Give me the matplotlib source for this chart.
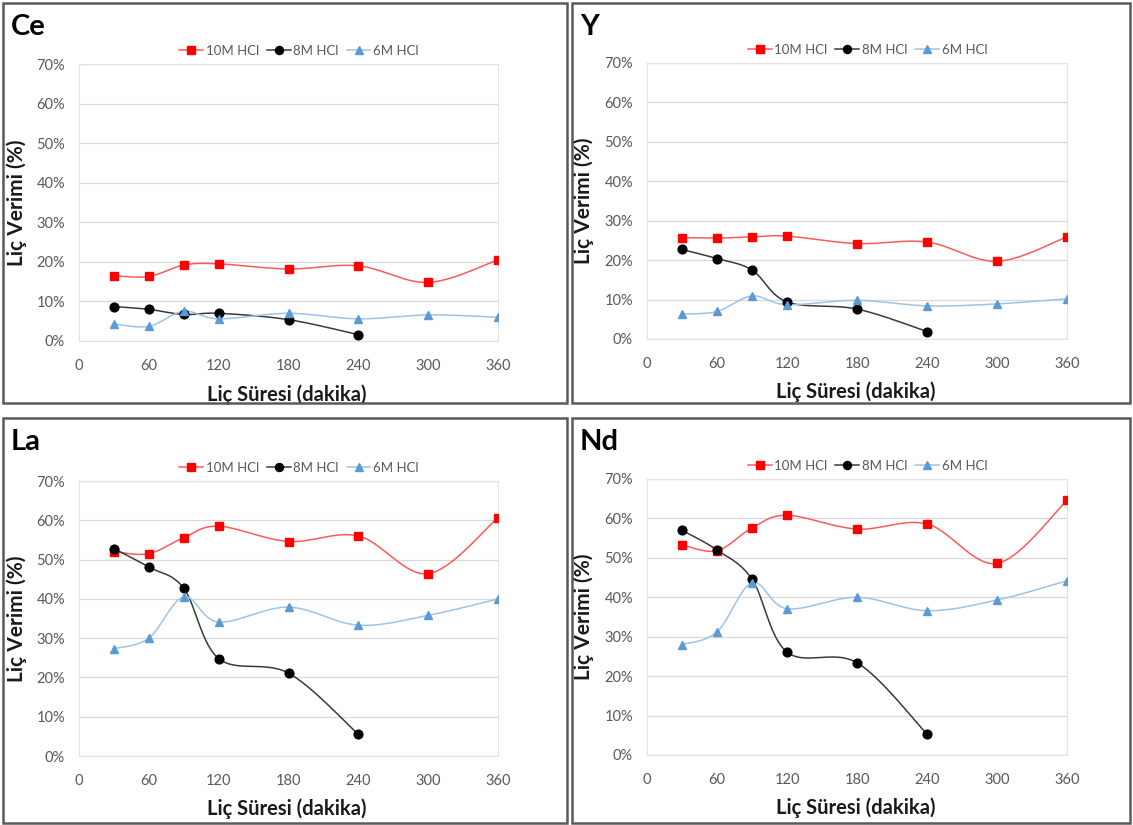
import numpy as np
import matplotlib
matplotlib.use("Agg")
import matplotlib.pyplot as plt
from matplotlib.patches import Rectangle
from matplotlib.lines import Line2D

plt.rcParams['font.family'] = ['Lato', 'DejaVu Sans']

# leaching time (min)
times = [30, 60, 90, 120, 180, 240, 300, 360]
times_8m = [30, 60, 90, 120, 180, 240]

series_names = ['10M HCl', '8M HCl', '6M HCl']

# leaching yield (%) per element
ce_10m = [16.5, 16.3, 19.2, 19.5, 18.2, 19.0, 14.8, 20.5]
ce_8m = [8.7, 8.0, 6.7, 7.0, 5.4, 1.6]
ce_6m = [4.3, 3.7, 7.5, 5.6, 7.0, 5.6, 6.6, 6.0]

y_10m = [25.7, 25.6, 25.9, 26.1, 24.2, 24.6, 19.7, 25.9]
y_8m = [22.7, 20.4, 17.5, 9.4, 7.6, 1.9]
y_6m = [6.3, 7.0, 10.9, 8.7, 9.8, 8.4, 8.9, 10.2]

la_10m = [52.0, 51.5, 55.6, 58.5, 54.6, 56.0, 46.4, 60.7]
la_8m = [52.8, 48.1, 42.7, 24.8, 21.1, 5.5]
la_6m = [27.3, 30.0, 40.5, 34.1, 37.9, 33.3, 35.8, 40.0]

nd_10m = [53.3, 51.8, 57.6, 60.8, 57.3, 58.6, 48.6, 64.6]
nd_8m = [57.0, 52.0, 44.6, 26.1, 23.4, 5.3]
nd_6m = [28.0, 31.2, 43.7, 37.1, 40.0, 36.6, 39.3, 44.2]

panels = [
    ('Ce', ce_10m, ce_8m, ce_6m),
    ('Y', y_10m, y_8m, y_6m),
    ('La', la_10m, la_8m, la_6m),
    ('Nd', nd_10m, nd_8m, nd_6m),
]

x_ticks = [0, 60, 120, 180, 240, 300, 360]
y_ticks = [0, 10, 20, 30, 40, 50, 60, 70]


def smooth(x, y, n=30):
    # Excel-like smoothed line: cubic bezier through the points
    x = np.asarray(x, float)
    y = np.asarray(y, float)
    px = np.concatenate([[x[0]], x, [x[-1]]])
    py = np.concatenate([[y[0]], y, [y[-1]]])
    t = np.linspace(0, 1, n)
    xs, ys = [], []
    for i in range(1, len(px) - 2):
        p0 = np.array([px[i], py[i]])
        p3 = np.array([px[i + 1], py[i + 1]])
        c1 = p0 + (p3 - np.array([px[i - 1], py[i - 1]])) / 6
        c2 = p3 - (np.array([px[i + 2], py[i + 2]]) - p0) / 6
        b = ((1 - t) ** 3)[:, None] * p0 + (3 * (1 - t) ** 2 * t)[:, None] * c1 \
            + (3 * (1 - t) * t ** 2)[:, None] * c2 + (t ** 3)[:, None] * p3
        xs.append(b[:, 0])
        ys.append(b[:, 1])
    return np.concatenate(xs), np.concatenate(ys)


W, H = 1133, 825
fig = plt.figure(figsize=(W / 100, H / 100), dpi=100)

# panel frames (px): left, top, right, bottom
frames = [(3, 3, 567, 403), (572, 3, 1130, 403), (3, 418, 567, 823), (572, 418, 1130, 823)]
# plot areas (px)
areas = [(79, 64, 498, 341), (647, 63, 1067, 339), (79, 481, 498, 756), (647, 479, 1067, 755)]

styles = [
    dict(color='#ff5a5a', mfc='#ff0000', mec='#ff0000', marker='s', ms=6.3),
    dict(color='#3a3a3a', mfc='#000000', mec='#000000', marker='o', ms=6.3),
    dict(color='#9dc3e6', mfc='#5b9bd5', mec='#5b9bd5', marker='^', ms=6),
]

for (name, s10, s8, s6), fr, ar in zip(panels, frames, areas):
    l, t, r, b = fr
    fig.patches.append(Rectangle((l / W, 1 - b / H), (r - l) / W, (b - t) / H,
                                 transform=fig.transFigure, fill=False,
                                 edgecolor='#5a5a5a', lw=1.8))
    fig.text((l + 8) / W, 1 - (t + 24) / H, name, fontsize=21, fontweight='bold',
             va='center', ha='left')

    al, at, ar_, ab = ar
    ax = fig.add_axes([al / W, 1 - ab / H, (ar_ - al) / W, (ab - at) / H])
    handles = []
    for xs, ys, st, lab in zip([times, times_8m, times], [s10, s8, s6], styles, series_names):
        sx, sy = smooth(xs, ys)
        ax.plot(sx, sy, color=st['color'], lw=1.1, zorder=3)
        ax.plot(xs, ys, ls='none', marker=st['marker'], ms=st['ms'],
                mfc=st['mfc'], mec=st['mec'], zorder=4)
        handles.append(Line2D([], [], color=st['color'], lw=1.1, marker=st['marker'],
                              ms=st['ms'] - 0.5, mfc=st['mfc'], mec=st['mec'], label=lab))

    ax.set_xlim(0, 360)
    ax.set_ylim(0, 70)
    ax.set_xticks(x_ticks)
    ax.set_yticks(y_ticks)
    ax.set_yticklabels([f'{v}%' for v in y_ticks])
    ax.tick_params(length=0, labelsize=10.5, labelcolor='#595959')
    ax.tick_params(axis='x', pad=13)
    ax.tick_params(axis='y', pad=10)
    ax.grid(axis='y', color='#d9d9d9', lw=0.9)
    ax.set_axisbelow(True)
    for sp in ax.spines.values():
        sp.set_color('#e3e3e3')
        sp.set_linewidth(0.8)

    ax.set_ylabel('Liç Verimi (%)', fontsize=15, fontweight='bold', color='#1a1a1a')
    ax.yaxis.set_label_coords(-0.125, 0.5)
    ax.set_xlabel('Liç Süresi (dakika)', fontsize=14.5, fontweight='bold', color='#1a1a1a')
    ax.xaxis.set_label_coords(0.497, -0.155)

    leg = ax.legend(handles=handles, ncol=3, loc='center', frameon=False,
                    bbox_to_anchor=(0.525, 1 + 13 / (ab - at)), fontsize=9.5,
                    handlelength=1.8, handletextpad=0.2, columnspacing=0.6)
    for txt in leg.get_texts():
        txt.set_color('#595959')

fig.savefig('out.png', dpi=100)
